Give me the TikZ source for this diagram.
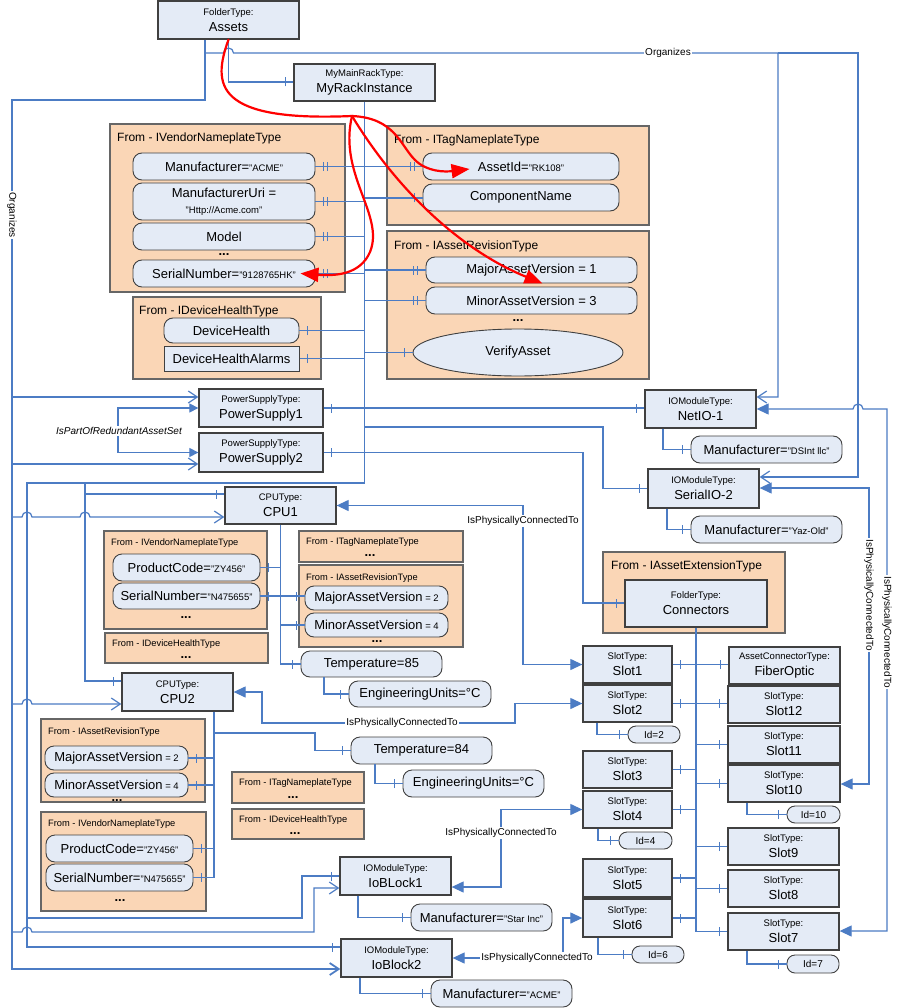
\documentclass[tikz,border=0pt]{standalone}
\usepackage{fontspec}
\setmainfont{Liberation Sans}
\usetikzlibrary{arrows.meta,decorations.markings,shapes.geometric}
\definecolor{bxb}{RGB}{228,235,246}
\definecolor{peach}{RGB}{250,214,182}
\definecolor{lnb}{RGB}{76,124,196}
\definecolor{bord}{RGB}{64,64,64}
\newcommand\fA{\fontsize{13}{16}\selectfont}
\newcommand\fB{\fontsize{9.5}{11}\selectfont}
\newcommand\fC{\fontsize{12}{14}\selectfont}
\newcommand\fD{\fontsize{10}{12}\selectfont}
\newcommand\fS{\fontsize{9.3}{11}\selectfont}
\newcommand\tkm{\pgfsetstrokecolor{lnb}\pgfsetlinewidth{1.2pt}\pgfpathmoveto{\pgfqpoint{0pt}{-4.5pt}}\pgfpathlineto{\pgfqpoint{0pt}{4.5pt}}\pgfusepath{stroke}}
\newcommand\bx[7][]{\node[#1,minimum width={(#5)-(#3)},minimum height={(#6)-(#4)}] (#2) at ({((#3)+(#5))/2},{((#4)+(#6))/2}) {#7};}
\begin{document}
\begin{tikzpicture}[x=1pt,y=-1pt,
  tbox/.style={draw=bord,line width=1.3pt,fill=bxb,inner sep=1pt,align=center,font=\fA},
  pbox/.style={draw=bord,line width=0.9pt,fill=bxb,rounded corners=9pt,inner sep=1pt,align=center,font=\fA},
  ibox/.style={draw=bord,line width=0.9pt,fill=bxb,rounded corners=8pt,inner sep=1pt,font=\fD},
  ebox/.style={ellipse,draw=bord,line width=0.9pt,fill=bxb,inner sep=0pt,font=\fA},
  gbox/.style={draw=black!60,line width=1.2pt,fill=peach,inner sep=0pt},
  gt/.style={anchor=west,font=\fC,inner sep=0pt},
  gts/.style={anchor=west,font=\fS,inner sep=0pt},
  dotn/.style={font=\fA\bfseries,inner sep=0pt},
  conn/.style={draw=lnb,line width=1.2pt},
  connb/.style={draw=lnb,line width=1.8pt},
  oarr/.style={-{Straight Barb[length=9pt,width=12pt]}},
  farr/.style={{Triangle[length=12pt,width=11pt]}-{Triangle[length=12pt,width=11pt]}},
  farrs/.style={{Triangle[length=9pt,width=9pt]}-{Triangle[length=9pt,width=9pt]}},
  tkS/.style={postaction={decorate,decoration={markings,mark=at position 8pt with {\tkm}}}},
  tkE/.style={postaction={decorate,decoration={markings,mark=at position -8pt with {\tkm}}}},
  dtkS/.style={postaction={decorate,decoration={markings,mark=at position 8pt with {\tkm},mark=at position 12pt with {\tkm}}}},
  dtkE/.style={postaction={decorate,decoration={markings,mark=at position -12pt with {\tkm},mark=at position -8pt with {\tkm}}}},
  lbl/.style={fill=white,inner sep=1pt,font=\fD,text=black},
  redc/.style={draw=red,line width=2.2pt,line cap=round}]
\fill[white] (0,0) rectangle (897,1008);
\useasboundingbox (0,0) rectangle (897,1008);
% ---------------- groups
\bx[gbox]{gVendor}{110}{124}{345}{292}{}
\bx[gbox]{gTag}{387}{126}{649}{225}{}
\bx[gbox]{gRev}{387}{231}{649}{379}{}
\bx[gbox]{gHealth}{133}{297}{321}{379}{}
\bx[gbox]{gExt}{603}{552}{785}{633}{}
\bx[gbox]{c1Vendor}{104}{531}{267}{629}{}
\bx[gbox]{c1Health}{105}{633}{268}{663}{}
\bx[gbox]{c1Tag}{299}{531}{463}{562}{}
\bx[gbox]{c1Rev}{299}{565}{463}{647}{}
\bx[gbox]{c2Rev}{41}{719}{205}{802}{}
\bx[gbox]{c2Vendor}{41}{812}{206}{911}{}
\bx[gbox]{c2Tag}{232}{772}{364}{803}{}
\bx[gbox]{c2Health}{232}{809}{364}{839}{}
\node[gt] (tVendor) at (117,138) {From - IVendorNameplateType};
\node[gt] (tTag) at (394,140) {From - ITagNameplateType};
\node[gt] (tRev) at (394,246) {From - IAssetRevisionType};
\node[gt] (tHealth) at (139,311) {From - IDeviceHealthType};
\node[gt] (tExt) at (611,566) {From - IAssetExtensionType};
\node[gts] (t1V) at (111,543) {From - IVendorNameplateType};
\node[gts] (t1H) at (112,644) {From - IDeviceHealthType};
\node[gts] (t1T) at (306,542) {From - ITagNameplateType};
\node[gts] (t1R) at (306,578) {From - IAssetRevisionType};
\node[gts] (t2R) at (48,732) {From - IAssetRevisionType};
\node[gts] (t2V) at (48,824) {From - IVendorNameplateType};
\node[gts] (t2T) at (239,783) {From - ITagNameplateType};
\node[gts] (t2H) at (239,820) {From - IDeviceHealthType};
\node[dotn] (d1) at (224,255) {...};
\node[dotn] (d2) at (518,321) {...};
\node[dotn] (d3) at (186,618) {...};
\node[dotn] (d4) at (186,658) {...};
\node[dotn] (d5) at (370,556) {...};
\node[dotn] (d6) at (377,642) {...};
\node[dotn] (d7) at (117,801) {...};
\node[dotn] (d8) at (120,901) {...};
\node[dotn] (d9) at (293,798) {...};
\node[dotn] (d10) at (295,834) {...};
% ---------------- type boxes
\bx[tbox]{assets}{158}{1}{299}{39}{{\fB FolderType:}\\Assets}
\bx[tbox]{rack}{294}{64}{435}{101}{{\fB MyMainRackType:}\\MyRackInstance}
\bx[tbox]{ps1}{199}{389}{323}{427}{{\fB PowerSupplyType:}\\PowerSupply1}
\bx[tbox]{ps2}{199}{433}{323}{472}{{\fB PowerSupplyType:}\\PowerSupply2}
\bx[tbox]{netio}{645}{390}{756}{428}{{\fB IOModuleType:}\\NetIO-1}
\bx[tbox]{serialio}{648}{469}{759}{508}{{\fB IOModuleType:}\\SerialIO-2}
\bx[tbox]{connectors}{625}{580}{767}{627}{{\fB FolderType:}\\Connectors}
\bx[tbox]{cpu1}{225}{487}{336}{524}{{\fB CPUType:}\\CPU1}
\bx[tbox]{cpu2}{122}{673}{233}{711}{{\fB CPUType:}\\CPU2}
\bx[tbox]{slot1}{583}{646}{672}{683}{{\fB SlotType:}\\Slot1}
\bx[tbox]{slot2}{583}{685}{672}{722}{{\fB SlotType:}\\Slot2}
\bx[tbox]{slot3}{583}{751}{672}{788}{{\fB SlotType:}\\Slot3}
\bx[tbox]{slot4}{583}{791}{672}{828}{{\fB SlotType:}\\Slot4}
\bx[tbox]{slot5}{583}{859}{672}{897}{{\fB SlotType:}\\Slot5}
\bx[tbox]{slot6}{583}{899}{672}{937}{{\fB SlotType:}\\Slot6}
\bx[tbox]{fiber}{729}{647}{840}{684}{{\fB AssetConnectorType:}\\FiberOptic}
\bx[tbox]{slot12}{728}{686}{840}{723}{{\fB SlotType:}\\Slot12}
\bx[tbox]{slot11}{728}{726}{840}{763}{{\fB SlotType:}\\Slot11}
\bx[tbox]{slot10}{728}{765}{840}{802}{{\fB SlotType:}\\Slot10}
\bx[tbox]{slot9}{728}{828}{839}{865}{{\fB SlotType:}\\Slot9}
\bx[tbox]{slot8}{728}{870}{839}{907}{{\fB SlotType:}\\Slot8}
\bx[tbox]{slot7}{728}{913}{839}{950}{{\fB SlotType:}\\Slot7}
\bx[tbox]{ioblock1}{340}{857}{451}{895}{{\fB IOModuleType:}\\IoBLock1}
\bx[tbox]{ioblock2}{341}{939}{452}{977}{{\fB IOModuleType:}\\IoBlock2}
% ---------------- properties
\bx[pbox]{mfr}{133}{153}{315}{180}{Manufacturer={\fB"ACME"}}
\bx[pbox]{uri}{133}{183}{315}{220}{ManufacturerUri =\\{\fB"Http://Acme.com"}}
\bx[pbox]{model}{133}{223}{315}{250}{Model}
\bx[pbox]{serial}{133}{260}{315}{287}{SerialNumber={\fB"9128765HK"}}
\bx[pbox]{assetid}{423}{153}{619}{180}{AssetId={\fB"RK108"}}
\bx[pbox]{compname}{423}{184}{619}{211}{ComponentName}
\bx[pbox]{major}{426}{257}{637}{283}{MajorAssetVersion = 1}
\bx[pbox]{minor}{426}{287}{637}{314}{MinorAssetVersion = 3}
\bx[ebox]{verify}{413}{329}{623}{376}{VerifyAsset}
\bx[pbox]{devhealth}{164}{318}{299}{343}{DeviceHealth}
\bx[tbox,line width=1pt]{devalarms}{164}{346}{299}{371}{DeviceHealthAlarms}
\bx[pbox]{mfrdsint}{691}{436}{842}{463}{Manufacturer={\fB"DSInt llc"}}
\bx[pbox]{mfryaz}{691}{516}{842}{543}{Manufacturer={\fB"Yaz-Old"}}
\bx[pbox]{c1prod}{113}{554}{260}{581}{ProductCode={\fB"ZY456"}}
\bx[pbox]{c1serial}{113}{583}{260}{609}{SerialNumber={\fB"N475655"}}
\bx[pbox]{c1major}{305}{586}{448}{610}{MajorAssetVersion{\fB{} = 2}}
\bx[pbox]{c1minor}{305}{613}{448}{637}{MinorAssetVersion{\fB{} = 4}}
\bx[pbox]{temp85}{301}{651}{442}{677}{Temperature=85}
\bx[pbox]{eu1}{349}{681}{491}{707}{EngineeringUnits=°C}
\bx[pbox]{c2major}{45}{746}{188}{770}{MajorAssetVersion{\fB{} = 2}}
\bx[pbox]{c2minor}{45}{773}{188}{797}{MinorAssetVersion{\fB{} = 4}}
\bx[pbox]{c2prod}{46}{835}{193}{862}{ProductCode={\fB"ZY456"}}
\bx[pbox]{c2serial}{46}{864}{193}{891}{SerialNumber={\fB"N475655"}}
\bx[pbox]{temp84}{351}{737}{492}{764}{Temperature=84}
\bx[pbox]{eu2}{403}{770}{544}{797}{EngineeringUnits=°C}
\bx[ibox]{id2}{628}{726}{680}{743}{Id=2}
\bx[ibox]{id4}{619}{832}{672}{849}{Id=4}
\bx[ibox]{id6}{632}{946}{684}{963}{Id=6}
\bx[ibox]{id10}{787}{806}{840}{823}{Id=10}
\bx[ibox]{id7}{787}{955}{839}{973}{Id=7}
\bx[pbox]{mfrstar}{411}{904}{552}{931}{Manufacturer={\fB"Star Inc"}}
\bx[pbox]{mfracme2}{431}{980}{572}{1007}{Manufacturer={\fB"ACME"}}
% ---------------- Organizes
\draw[connb,oarr] (assets.south -| 205,0) -- (205,100) -- (12,100) -- (12,969) -- (ioblock2.west |- 0,969);
\node[lbl,rotate=-90] (lorg1) at (12,215) {Organizes};
\draw[conn,oarr] (12,397) -- (ps1.west |- 0,397);
\draw[conn,oarr] (12,464) -- (ps2.west |- 0,464);
\draw[conn,oarr] (12,517) -- (22,517) arc[start angle=180,end angle=0,radius=5pt] -- (80,517) arc[start angle=180,end angle=0,radius=5pt] -- (cpu1.west |- 0,517);
\draw[conn,oarr] (12,704) -- (22,704) arc[start angle=180,end angle=0,radius=5pt] -- (cpu2.west |- 0,704);
\draw[conn,oarr] (12,932) -- (22,932) arc[start angle=180,end angle=0,radius=5pt] -- (314,932) -- (314,888) -- (ioblock1.west |- 0,888);
\draw[conn,oarr] (205,53) -- (223.5,53) arc[start angle=180,end angle=0,radius=5pt] -- (778,53) -- (778,397) -- (netio.east |- 0,397);
\node[lbl] (lorg2) at (668,53) {Organizes};
\draw[conn,oarr] (778,53) -- (858,53) -- (858,477) -- (serialio.east |- 0,477);
% ---------------- components / properties
\draw[conn,tkE] (assets.south) -- (228.5,82) -- (rack.west |- 0,82);
\draw[connb,tkE] (rack.south) -- (364.5,483) -- (27,483) -- (27,947) -- (ioblock2.west |- 0,947);
\draw[conn,tkE] (85,483) -- (85,681) -- (cpu2.west |- 0,681);
\draw[conn,tkE] (85,494) -- (cpu1.west |- 0,494);
\draw[conn,tkE] (27,918) -- (302,918) -- (302,876) -- (ioblock1.west |- 0,876);
\draw[conn,dtkS,dtkE] (mfr.east) -- (assetid.west);
\draw[conn,dtkS] (uri.east) -- (uri.east -| 364.5,0);
\draw[conn,tkE] (364.5,198) -- (compname.west |- 0,198);
\draw[conn,dtkS] (model.east) -- (model.east -| 364.5,0);
\draw[conn,dtkS] (serial.east) -- (serial.east -| 364.5,0);
\draw[conn,dtkE] (364.5,270) -- (major.west);
\draw[conn,dtkE] (364.5,300.5) -- (minor.west);
\draw[conn,tkS] (devhealth.east) -- (devhealth.east -| 364.5,0);
\draw[conn,tkE] (364.5,352.5) -- (verify.west);
\draw[conn,tkS] (devalarms.east) -- (devalarms.east -| 364.5,0);
\draw[conn,tkS,tkE] (ps1.east) -- (netio.west |- ps1.east);
\draw[conn,tkE] (364.5,427) -- (603,427) -- (603,488.5) -- (serialio.west);
\draw[conn,tkS,tkE] (ps2.east) -- (ps2.east -| 583,0) -- (583,603) -- (connectors.west |- 0,603);
\draw[conn,tkE] (netio.south -| 663,0) -- (663,449.5) -- (mfrdsint.west);
\draw[conn,tkE] (serialio.south -| 667,0) -- (667,529.5) -- (mfryaz.west);
% CPU1
\draw[conn,tkE] (cpu1.south) -- (280.5,664) -- (temp85.west);
\draw[conn,tkS] (c1prod.east) -- (c1prod.east -| 280.5,0);
\draw[conn,tkS,tkE] (c1serial.east) -- (c1major.west |- c1serial.east);
\draw[conn,tkE] (280.5,625) -- (c1minor.west);
\draw[conn,tkE] (temp85.south -| 324,0) -- (324,694) -- (eu1.west);
% CPU2
\draw[conn,tkE] (cpu2.south -| 214,0) -- (214,877.5) -- (c2serial.east);
\draw[conn,tkS] (c2major.east) -- (c2major.east -| 214,0);
\draw[conn,tkS] (c2minor.east) -- (c2minor.east -| 214,0);
\draw[conn,tkS] (c2prod.east) -- (c2prod.east -| 214,0);
\draw[conn,tkE] (214,733) -- (315,733) -- (315,750.5) -- (temp84.west);
\draw[conn,tkE] (temp84.south -| 375,0) -- (375,783.5) -- (eu2.west);
% Connectors
\draw[connb,tkE] (connectors.south) -- (696,931.5) -- (slot7.west);
\draw[conn,tkS,tkE] (slot1.east) -- (fiber.west |- slot1.east);
\draw[conn,tkS,tkE] (slot2.east) -- (slot12.west |- slot2.east);
\draw[conn,tkE] (696,744.5) -- (slot11.west);
\draw[conn,tkS] (slot3.east) -- (slot3.east -| 696,0);
\draw[conn,tkE] (696,783.5) -- (slot10.west);
\draw[conn,tkS] (slot4.east) -- (slot4.east -| 696,0);
\draw[conn,tkE] (696,846.5) -- (slot9.west);
\draw[conn,tkS] (slot5.east) -- (slot5.east -| 696,0);
\draw[conn,tkE] (696,888.5) -- (slot8.west);
\draw[conn,tkS] (slot6.east) -- (slot6.east -| 696,0);
\draw[conn,tkE] (slot2.south -| 597,0) -- (597,734.5) -- (id2.west);
\draw[conn,tkE] (slot4.south -| 598,0) -- (598,840.5) -- (id4.west);
\draw[conn,tkE] (slot6.south -| 598,0) -- (598,954.5) -- (id6.west);
\draw[conn,tkE] (slot10.south -| 747,0) -- (747,814.5) -- (id10.west);
\draw[conn,tkE] (slot7.south -| 747,0) -- (747,964) -- (id7.west);
\draw[conn,tkE] (ioblock1.south -| 358,0) -- (358,917.5) -- (mfrstar.west);
\draw[conn,tkE] (ioblock2.south -| 360,0) -- (360,993.5) -- (mfracme2.west);
% ---------------- IsPhysicallyConnectedTo
\draw[conn,farr] (cpu1.east) -- (523,505.5) -- (523,664.5) -- (slot1.west);
\node[lbl] (lp1) at (523,521) {IsPhysicallyConnectedTo};
\draw[conn,farr] (cpu2.east) -- (262,692) -- (262,723) -- (515,723) -- (515,703.5) -- (slot2.west);
\node[lbl] (lp2) at (402,723) {IsPhysicallyConnectedTo};
\draw[conn,farr] (ioblock1.east |- 0,887) -- (501,887) -- (501,809.5) -- (slot4.west);
\node[lbl] (lp3) at (501,833) {IsPhysicallyConnectedTo};
\draw[conn,farr] (ioblock2.east) -- (563,958) -- (563,918) -- (slot6.west);
\node[lbl] (lp4) at (537,958) {IsPhysicallyConnectedTo};
\draw[conn,farr] (netio.east |- 0,409) -- (853,409) arc[start angle=180,end angle=0,radius=5pt] -- (887,409) -- (887,931) -- (slot7.east |- 0,931);
\node[lbl,rotate=-90] (lp5) at (887,632) {IsPhysicallyConnectedTo};
\draw[conn,farr] (serialio.east |- 0,488) -- (869,488) -- (869,784) -- (slot10.east |- 0,784);
\node[lbl,rotate=-90] (lp6) at (869,595) {IsPhysicallyConnectedTo};
% ---------------- IsPartOfRedundantAssetSet
\draw[conn,farrs] (ps1.west) -- (118,408) -- (118,452.5) -- (ps2.west);
\node[lbl,font=\fD\itshape] (lred) at (119,431) {IsPartOfRedundantAssetSet};
% ---------------- red annotation curves
\draw[redc] (assets.south) .. controls (212,85) and (215,122) .. (352,116) coordinate (hub);
\draw[redc,-{Triangle[length=18pt,width=14pt]}] (hub) .. controls (338,175) and (385,215) .. (370,252) .. controls (360,275) and (335,276) .. ([xshift=-15pt]serial.east);
\draw[redc,-{Triangle[length=18pt,width=14pt]}] (hub) .. controls (395,118) and (400,145) .. (415,160) .. controls (427,172) and (445,172) .. ([xshift=47pt,yshift=-2.5pt]assetid.west);
\draw[redc,-{Triangle[length=18pt,width=14pt]}] (hub) .. controls (400,195) and (465,252) .. ([xshift=11pt]major.south);
\end{tikzpicture}
\end{document}
